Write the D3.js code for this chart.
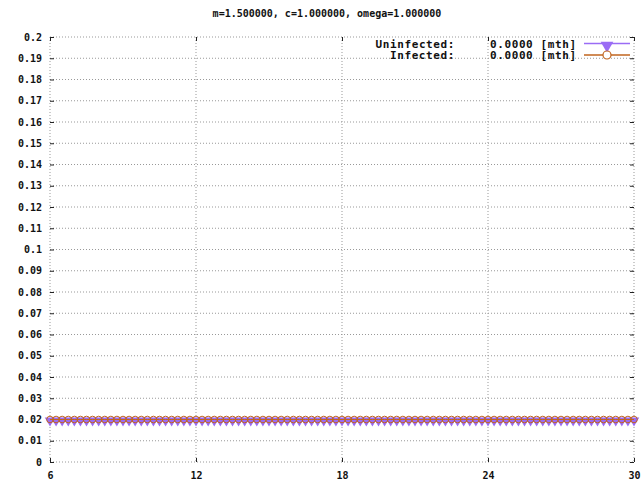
<!DOCTYPE html>
<html>
<head>
<meta charset="utf-8">
<script src="https://cdn.jsdelivr.net/npm/d3@7"></script>
<style>
  body { margin: 0; background: #fff; }
  text { font-family: "DejaVu Sans Mono", monospace; font-weight: bold; font-size: 10px; fill: #111; }
  .legend text { font-size: 11px; letter-spacing: 0.6px; }
</style>
</head>
<body>
<div id="chart"></div>
<script>
// data
const title = "m=1.500000, c=1.000000, omega=1.000000";
const xTicks = [6, 12, 18, 24, 30];
const yTicks = [0, 0.01, 0.02, 0.03, 0.04, 0.05, 0.06, 0.07, 0.08, 0.09, 0.1,
  0.11, 0.12, 0.13, 0.14, 0.15, 0.16, 0.17, 0.18, 0.19, 0.2];
const months = d3.range(0, 97).map(i => 6 + i * 0.25);
const uninfected = months.map(() => 0.02);
const infected = months.map(() => 0.02);
const seriesNames = ["Uninfected:", "Infected:"];
const seriesMeans = ["0.0000 [mth]", "0.0000 [mth]"];

const width = 643, height = 487;
const margin = { top: 37, right: 9, bottom: 25, left: 50 };
const w = width - margin.left - margin.right;
const h = height - margin.top - margin.bottom;

const svg = d3.select("#chart").append("svg")
  .attr("width", width)
  .attr("height", height);

const g = svg.append("g")
  .attr("transform", `translate(${margin.left},${margin.top})`);

const x = d3.scaleLinear().domain([6, 30]).range([0, w]);
const y = d3.scaleLinear().domain([0, 0.2]).range([h, 0]);

// grid
g.selectAll(".gy").data(yTicks).enter().append("line")
  .attr("x1", 0).attr("x2", w)
  .attr("y1", d => y(d)).attr("y2", d => y(d))
  .attr("stroke", "#999").attr("stroke-dasharray", "1,2");
g.selectAll(".gx").data(xTicks).enter().append("line")
  .attr("x1", d => x(d)).attr("x2", d => x(d))
  .attr("y1", 0).attr("y2", h)
  .attr("stroke", "#999").attr("stroke-dasharray", "1,2");

// axes (inward ticks, no domain)
const axLeft = g.append("g")
  .call(d3.axisLeft(y).tickValues(yTicks).tickSize(-4).tickPadding(8).tickFormat(d => d3.format(".2~f")(d).replace(/^0\.?$/, "0")));
const axRight = g.append("g").attr("transform", `translate(${w},0)`)
  .call(d3.axisRight(y).tickValues(yTicks).tickSize(-4).tickFormat(""));
const axBottom = g.append("g").attr("transform", `translate(0,${h})`)
  .call(d3.axisBottom(x).tickValues(xTicks).tickSize(-4).tickPadding(10));
const axTop = g.append("g")
  .call(d3.axisTop(x).tickValues(xTicks).tickSize(-4).tickFormat(""));
[axLeft, axRight, axBottom, axTop].forEach(a => {
  a.select(".domain").remove();
  a.selectAll("line").attr("stroke", "#222");
  a.selectAll("text").attr("font-family", null).attr("font-size", null).style("fill", "#111");
});

// series
const line = d3.line().x((d, i) => x(months[i])).y(d => y(d));
const purple = "#9a6cf5", brown = "#c0651e";

g.append("path").datum(uninfected)
  .attr("fill", "none").attr("stroke", purple).attr("stroke-width", 1).attr("d", line);
const tri = d3.symbol().type(d3.symbolTriangle).size(48);
g.selectAll(".tri").data(uninfected).enter().append("path")
  .attr("d", tri)
  .attr("transform", (d, i) => `translate(${x(months[i])},${y(d) + 1}) rotate(180)`)
  .attr("fill", purple);

g.append("path").datum(infected)
  .attr("fill", "none").attr("stroke", brown).attr("stroke-width", 1).attr("d", line);
g.selectAll(".circ").data(infected).enter().append("circle")
  .attr("cx", (d, i) => x(months[i])).attr("cy", d => y(d))
  .attr("r", 3.3)
  .attr("fill", "none").attr("stroke", brown).attr("stroke-width", 1);

// title
svg.append("text")
  .attr("x", 327).attr("y", 17)
  .attr("text-anchor", "middle")
  .text(title);

// legend
const legend = svg.append("g").attr("class", "legend");
seriesNames.forEach((name, i) => {
  const ly = 47.5 + i * 11.5;
  legend.append("text").attr("x", 455).attr("y", ly).attr("text-anchor", "end").text(name);
  legend.append("text").attr("x", 490).attr("y", ly).text(seriesMeans[i]);
  const color = i === 0 ? purple : brown;
  legend.append("line").attr("x1", 584).attr("x2", 630)
    .attr("y1", ly - 4).attr("y2", ly - 4)
    .attr("stroke", color).attr("stroke-width", 1.5);
  if (i === 0) {
    legend.append("path").attr("d", d3.symbol().type(d3.symbolTriangle).size(70))
      .attr("transform", `translate(607,${ly - 2}) rotate(180)`).attr("fill", purple);
  } else {
    legend.append("circle").attr("cx", 607).attr("cy", ly - 4).attr("r", 4)
      .attr("fill", "#fff").attr("stroke", brown).attr("stroke-width", 1.2);
  }
});
</script>
</body>
</html>
